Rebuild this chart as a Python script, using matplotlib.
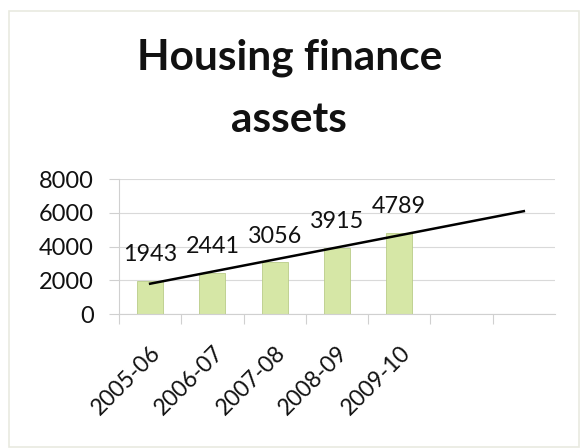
import matplotlib
matplotlib.use("Agg")
import matplotlib.pyplot as plt
import matplotlib.transforms as mtransforms
import numpy as np
from matplotlib.patches import Rectangle

plt.rcParams["font.family"] = ["Lato", "DejaVu Sans"]

# Housing finance assets by fiscal year
years = ["2005-06", "2006-07", "2007-08", "2008-09", "2009-10"]
assets = [1943, 2441, 3056, 3915, 4789]
n_slots = 7  # category axis leaves room for the forecast trend
y_ticks = [0, 2000, 4000, 6000, 8000]

fig = plt.figure(figsize=(5.81, 4.48), dpi=100)
fig.patch.set_facecolor("white")

# faint chart-area frame
fig.patches.append(Rectangle((0.0155, 0.003), 0.981, 0.972, transform=fig.transFigure,
                             fill=False, edgecolor="#e9eae0", linewidth=1.2))

ax = fig.add_axes([0.2048, 0.2991, 0.7504, 0.3013])
x = np.arange(len(years))
ax.bar(x, assets, width=0.42, color="#d6e7a6", edgecolor="#b9cc88", linewidth=0.6, zorder=2)

# linear trend, extended two periods forward
slope, intercept = np.polyfit(x, assets, 1)
xt = np.array([0, n_slots - 1])
ax.plot(xt, intercept + slope * xt, color="black", linewidth=1.8, zorder=3)

for xi, v in zip(x, assets):
    ax.annotate(str(v), (xi, v), xytext=(0, 19), textcoords="offset points",
                ha="center", va="center", fontsize=16.8, color="#111111", zorder=4)

ax.set_xlim(-0.5, n_slots - 0.5)
ax.set_ylim(0, 8000)
ax.set_yticks(y_ticks)
ax.set_yticklabels([str(t) for t in y_ticks], fontsize=17, color="#111111")
ax.set_xticks(np.arange(n_slots) - 0.5, minor=False)
ax.set_xticklabels([])
ax.set_xticks(x, minor=True)
ax.set_xticklabels(years, minor=True, rotation=45, ha="right", va="top",
                   rotation_mode="anchor", fontsize=16.5, color="#111111")
shift = mtransforms.ScaledTranslation(5 / 100, 0, fig.dpi_scale_trans)
for lbl in ax.get_xticklabels(minor=True):
    lbl.set_transform(lbl.get_transform() + shift)
ax.tick_params(axis="x", which="minor", length=0, pad=20)
ax.tick_params(axis="x", which="major", length=7, color="#d0d0d0", width=0.8)
ax.tick_params(axis="y", length=7.2, color="#d0d0d0", width=0.8, pad=11)

ax.grid(axis="y", color="#d9d9d9", linewidth=0.8, zorder=0)
for side in ["top", "right"]:
    ax.spines[side].set_visible(False)
for side in ["left", "bottom"]:
    ax.spines[side].set_color("#d0d0d0")
    ax.spines[side].set_linewidth(0.8)

fig.text(0.498, 0.844, "Housing finance", ha="center", va="baseline",
         fontsize=30.5, fontweight="bold", color="#111111")
fig.text(0.498, 0.705, "assets", ha="center", va="baseline",
         fontsize=30.5, fontweight="bold", color="#111111")

fig.savefig("out.png", dpi=100, facecolor="white")
